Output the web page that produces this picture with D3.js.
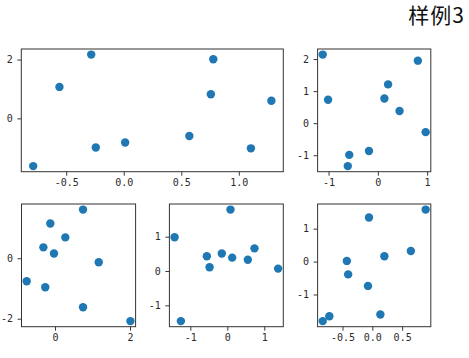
<!DOCTYPE html>
<html>
<head>
<meta charset="utf-8">
<script src="https://cdn.jsdelivr.net/npm/d3@7"></script>
<style>
  html, body { margin: 0; padding: 0; background: #fff; }
  svg { display: block; }
</style>
</head>
<body>
<script>
// ---- data ----
const titleText = "样例3";

const ax1X = [-0.787, -0.559, -0.283, -0.243, 0.012, 0.570, 0.757, 0.778, 1.105, 1.283];
const ax1Y = [-1.625, 1.07, 2.17, -0.99, -0.82, -0.60, 0.82, 2.01, -1.02, 0.60];
const ax1XTicks = [-0.5, 0.0, 0.5, 1.0];
const ax1XTickLabels = ["-0.5", "0.0", "0.5", "1.0"];
const ax1YTicks = [0, 2];
const ax1YTickLabels = ["0", "2"];

const ax2X = [-1.118, -1.01, -0.58, -0.61, -0.18, 0.133, 0.208, 0.44, 0.812, 0.97];
const ax2Y = [2.14, 0.73, -0.99, -1.34, -0.87, 0.77, 1.21, 0.38, 1.95, -0.28];
const ax2XTicks = [-1, 0, 1];
const ax2XTickLabels = ["-1", "0", "1"];
const ax2YTicks = [-1, 0, 1, 2];
const ax2YTickLabels = ["-1", "0", "1", "2"];

const ax3X = [-0.755, -0.31, -0.26, -0.125, -0.027, 0.275, 0.747, 0.747, 1.165, 2.01];
const ax3Y = [-0.76, 0.36, -0.96, 1.15, 0.155, 0.69, 1.61, -1.62, -0.13, -2.08];
const ax3XTicks = [0, 2];
const ax3XTickLabels = ["0", "2"];
const ax3YTicks = [-2, 0];
const ax3YTickLabels = ["-2", "0"];

const ax4X = [-1.427, -1.257, -0.554, -0.48, -0.149, 0.086, 0.132, 0.555, 0.735, 1.375];
const ax4Y = [0.985, -1.46, 0.43, 0.11, 0.51, 1.79, 0.39, 0.33, 0.66, 0.07];
const ax4XTicks = [-1, 0, 1];
const ax4XTickLabels = ["-1", "0", "1"];
const ax4YTicks = [-1, 0, 1];
const ax4YTickLabels = ["-1", "0", "1"];

const ax5X = [-0.831, -0.72, -0.427, -0.405, -0.073, -0.056, 0.135, 0.202, 0.646, 0.894];
const ax5Y = [-1.81, -1.66, 0.02, -0.39, -0.74, 1.34, -1.61, 0.16, 0.32, 1.58];
const ax5XTicks = [-0.5, 0.0, 0.5];
const ax5XTickLabels = ["-0.5", "0.0", "0.5"];
const ax5YTicks = [-1, 0, 1];
const ax5YTickLabels = ["-1", "0", "1"];

// ---- layout ----
const W = 469, H = 358;
const color = "#1f77b4";
const axes = [
  {x: ax1X, y: ax1Y, xt: ax1XTicks, xl: ax1XTickLabels, yt: ax1YTicks, yl: ax1YTickLabels, box: [21.3, 49, 283.3, 171.7]},
  {x: ax2X, y: ax2Y, xt: ax2XTicks, xl: ax2XTickLabels, yt: ax2YTicks, yl: ax2YTickLabels, box: [317.6, 49, 430.8, 171.7]},
  {x: ax3X, y: ax3Y, xt: ax3XTicks, xl: ax3XTickLabels, yt: ax3YTicks, yl: ax3YTickLabels, box: [21.5, 204, 135.6, 326.7]},
  {x: ax4X, y: ax4Y, xt: ax4XTicks, xl: ax4XTickLabels, yt: ax4YTicks, yl: ax4YTickLabels, box: [169.4, 204, 283.3, 326.7]},
  {x: ax5X, y: ax5Y, xt: ax5XTicks, xl: ax5XTickLabels, yt: ax5YTicks, yl: ax5YTickLabels, box: [317.6, 204, 430.8, 326.7]},
];

const svg = d3.select("body").append("svg").attr("width", W).attr("height", H);

function padded(ext) {
  const m = (ext[1] - ext[0]) * 0.05;
  return [ext[0] - m, ext[1] + m];
}

const tickFont = "'DejaVu Sans Mono', monospace";

axes.forEach(a => {
  const [x0, y0, x1, y1] = a.box;
  const xs = d3.scaleLinear().domain(padded(d3.extent(a.x))).range([x0, x1]);
  const ys = d3.scaleLinear().domain(padded(d3.extent(a.y))).range([y1, y0]);
  const g = svg.append("g");

  const pts = a.x.map((v, i) => ({x: v, y: a.y[i]}));
  g.selectAll("circle").data(pts).enter().append("circle")
    .attr("cx", d => xs(d.x)).attr("cy", d => ys(d.y))
    .attr("r", 4.2).attr("fill", color);

  const xAxis = d3.axisBottom(xs).tickValues(a.xt)
    .tickFormat((d, i) => a.xl[i]).tickSize(4).tickPadding(3.5).tickSizeOuter(0);
  const gx = svg.append("g").attr("transform", `translate(0,${y1})`).call(xAxis);
  gx.select(".domain").remove();
  gx.selectAll(".tick line").attr("stroke", "#222").attr("stroke-width", 0.9);
  gx.selectAll(".tick text").attr("font-family", tickFont).attr("font-size", 10).attr("fill", "#2a2a2a");

  const yAxis = d3.axisLeft(ys).tickValues(a.yt)
    .tickFormat((d, i) => a.yl[i]).tickSize(4).tickPadding(4.5).tickSizeOuter(0);
  const gy = svg.append("g").attr("transform", `translate(${x0},0)`).call(yAxis);
  gy.select(".domain").remove();
  gy.selectAll(".tick line").attr("stroke", "#222").attr("stroke-width", 0.9);
  gy.selectAll(".tick text").attr("font-family", tickFont).attr("font-size", 10).attr("fill", "#2a2a2a");

  svg.append("rect").attr("x", x0).attr("y", y0)
    .attr("width", x1 - x0).attr("height", y1 - y0)
    .attr("fill", "none").attr("stroke", "#333").attr("stroke-width", 1);
});

svg.append("text")
  .attr("x", 465).attr("y", 23)
  .attr("text-anchor", "end")
  .attr("font-family", "'Noto Sans CJK SC', sans-serif")
  .attr("font-size", 21)
  .attr("fill", "#111")
  .attr("letter-spacing", 1)
  .text(titleText);
</script>
</body>
</html>
